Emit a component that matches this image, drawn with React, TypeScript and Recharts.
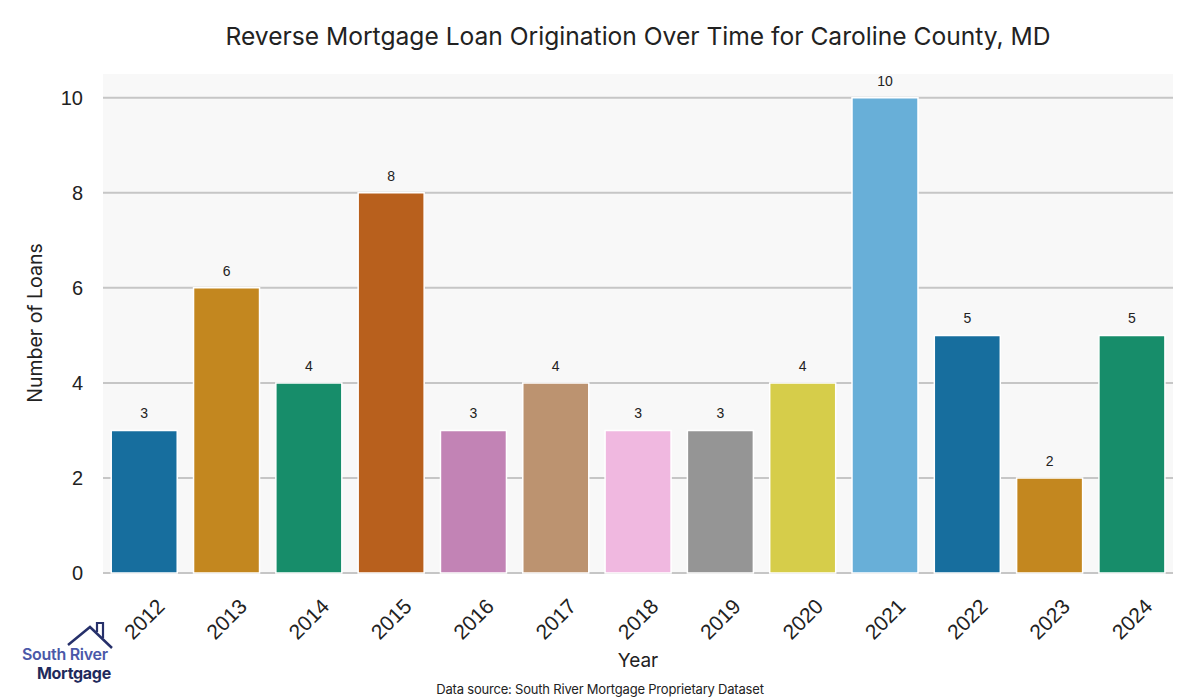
import { BarChart, Bar, XAxis, YAxis, CartesianGrid, Cell, LabelList } from 'recharts';

const years = ['2012', '2013', '2014', '2015', '2016', '2017', '2018', '2019', '2020', '2021', '2022', '2023', '2024'];
const loans = [3, 6, 4, 8, 3, 4, 3, 3, 4, 10, 5, 2, 5];
const barColors = [
  '#176E9E', '#C3871F', '#178D6A', '#B8601D', '#C283B5', '#BC9370', '#F0B8E0',
  '#959595', '#D6CD4A', '#68AFD8', '#176E9E', '#C3871F', '#178D6A',
];
const yTicks = [0, 2, 4, 6, 8, 10];

const data = years.map((year, i) => ({ year, loans: loans[i] }));

const titleFont = 'Inter, "Noto Sans", sans-serif';
const tickFont = '"Liberation Sans", Arial, sans-serif';

const XTick = ({ x, y, payload }: any) => (
  <text
    transform={`translate(${x},${y + 38}) rotate(-45)`}
    textAnchor="middle"
    dominantBaseline="central"
    fontSize={21}
    fontFamily={tickFont}
    fill="#222"
  >
    {payload.value}
  </text>
);

const YTick = ({ y, payload }: any) => (
  <text x={83} y={y} textAnchor="end" dominantBaseline="central" fontSize={20} fontFamily={tickFont} fill="#222">
    {payload.value}
  </text>
);

function Logo() {
  return (
    <div style={{ position: 'absolute', left: 18, top: 618, width: 100, height: 64 }}>
      <svg width="100" height="32" viewBox="0 0 100 32" style={{ position: 'absolute', left: 0, top: 0 }}>
        <polyline points="50,27 72,9 94,30" fill="none" stroke="#26306a" strokeWidth="2.5" />
        <polyline points="79,14 79,5 85,5 85,20" fill="none" stroke="#26306a" strokeWidth="2.2" />
      </svg>
      <div
        style={{
          position: 'absolute',
          left: 4,
          top: 28,
          lineHeight: '16px',
          fontFamily: titleFont,
          fontSize: 16,
          fontWeight: 600,
          color: '#4a58a8',
          whiteSpace: 'nowrap',
          letterSpacing: -0.3,
        }}
      >
        South River
      </div>
      <div
        style={{
          position: 'absolute',
          left: 19,
          top: 47,
          lineHeight: '16px',
          fontFamily: titleFont,
          fontSize: 16,
          fontWeight: 700,
          color: '#1f2a5c',
          whiteSpace: 'nowrap',
          letterSpacing: -0.3,
        }}
      >
        Mortgage
      </div>
    </div>
  );
}

export default function App() {
  return (
    <div style={{ position: 'absolute', left: 0, top: 0, width: 1200, height: 700, background: '#fff', overflow: 'hidden' }}>
      <div
        style={{
          position: 'absolute',
          left: 103,
          width: 1070,
          top: 21,
          textAlign: 'center',
          fontFamily: titleFont,
          fontSize: 24.6,
          color: '#222',
        }}
      >
        Reverse Mortgage Loan Origination Over Time for Caroline County, MD
      </div>
      <BarChart
        width={1200}
        height={700}
        data={data}
        margin={{ top: 74, right: 27, left: 0, bottom: 0 }}
        barCategoryGap="10%"
      >
        <CartesianGrid vertical={false} horizontalValues={yTicks} stroke="#c6c6c6" strokeWidth={2} fill="#f8f8f8" />
        <XAxis dataKey="year" height={127} axisLine={false} tickLine={false} tick={<XTick />} interval={0} />
        <YAxis
          width={103}
          domain={[0, 10.5]}
          ticks={yTicks}
          axisLine={false}
          tickLine={false}
          tick={<YTick />}
        />
        <Bar dataKey="loans" stroke="#fff" strokeWidth={1.5} isAnimationActive={false}>
          {data.map((d, i) => (
            <Cell key={d.year} fill={barColors[i]} />
          ))}
          <LabelList dataKey="loans" position="top" offset={12} fontSize={14} fontFamily={tickFont} fill="#222" />
        </Bar>
      </BarChart>
      <div
        style={{
          position: 'absolute',
          left: 35,
          top: 323,
          transform: 'translate(-50%, -50%) rotate(-90deg)',
          fontFamily: titleFont,
          fontSize: 19.5,
          color: '#222',
          whiteSpace: 'nowrap',
        }}
      >
        Number of Loans
      </div>
      <div
        style={{
          position: 'absolute',
          left: 103,
          width: 1070,
          top: 649,
          textAlign: 'center',
          fontFamily: titleFont,
          fontSize: 19,
          color: '#222',
        }}
      >
        Year
      </div>
      <div
        style={{
          position: 'absolute',
          left: 0,
          width: 1200,
          top: 681,
          textAlign: 'center',
          fontFamily: titleFont,
          fontSize: 13,
          color: '#222',
          letterSpacing: -0.2,
        }}
      >
        Data source: South River Mortgage Proprietary Dataset
      </div>
      <Logo />
    </div>
  );
}
